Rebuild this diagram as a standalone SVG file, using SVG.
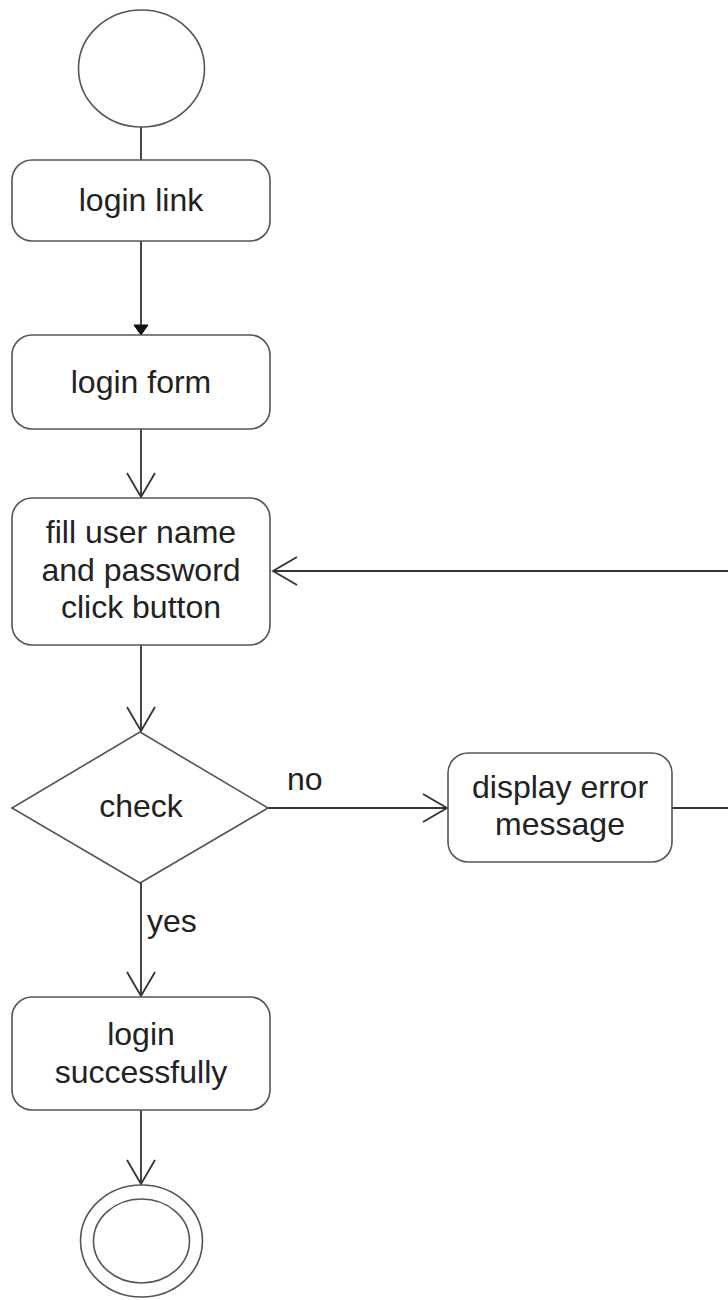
<svg xmlns="http://www.w3.org/2000/svg" width="728" height="1300" viewBox="0 0 728 1300">
<style>
.shape{fill:#fff;stroke:#555;stroke-width:1.6}
.conn{fill:none;stroke:#333;stroke-width:1.8}
.t{font-family:"Liberation Sans",Arial,sans-serif;font-size:32px;fill:#222;text-anchor:middle}
.lbl{font-family:"Liberation Sans",Arial,sans-serif;font-size:32px;fill:#222}
</style>
<defs>
<marker id="open" viewBox="-25 -16 27 32" refX="0" refY="0" markerWidth="27" markerHeight="32" markerUnits="userSpaceOnUse" orient="auto">
<path d="M-24,-14 L0,0 L-24,14" fill="none" stroke="#333" stroke-width="1.8"/>
</marker>
<marker id="filled" viewBox="-12 -8 13 16" refX="0" refY="0" markerWidth="13" markerHeight="16" markerUnits="userSpaceOnUse" orient="auto">
<path d="M-10,-7 L0,0 L-10,7 Z" fill="#111" stroke="#111" stroke-width="1"/>
</marker>
</defs>
<rect width="728" height="1300" fill="#fff"/>
<g id="connectors">
<line class="conn" x1="141" y1="127" x2="141" y2="160"/>
<line class="conn" x1="141" y1="241" x2="141" y2="335" marker-end="url(#filled)"/>
<line class="conn" x1="141" y1="429" x2="141" y2="497" marker-end="url(#open)"/>
<line class="conn" x1="141" y1="645" x2="141" y2="731" marker-end="url(#open)"/>
<line class="conn" x1="268" y1="808" x2="447" y2="808" marker-end="url(#open)"/>
<path class="conn" d="M672,808 H745 V571 H273" marker-end="url(#open)"/>
<line class="conn" x1="141" y1="883" x2="141" y2="996" marker-end="url(#open)"/>
<line class="conn" x1="141" y1="1110" x2="141" y2="1184" marker-end="url(#open)"/>
</g>
<g id="start">
<ellipse class="shape" cx="141.5" cy="68.5" rx="63" ry="58.5"/>
</g>
<g id="login-link">
<rect class="shape" x="12" y="160" width="258" height="81" rx="20" ry="20"/>
<text class="t" x="141" y="211">login link</text>
</g>
<g id="login-form">
<rect class="shape" x="12" y="335" width="258" height="94" rx="20" ry="20"/>
<text class="t" x="141" y="393">login form</text>
</g>
<g id="fill-form">
<rect class="shape" x="12" y="498" width="258" height="147" rx="20" ry="20"/>
<text class="t" x="141" y="543">fill user name</text>
<text class="t" x="141" y="581">and password</text>
<text class="t" x="141" y="618">click button</text>
</g>
<g id="check">
<polygon class="shape" points="140,732 268,808 140,883 12,808"/>
<text class="t" x="141" y="817">check</text>
</g>
<g id="display-error">
<rect class="shape" x="448" y="753" width="224" height="109" rx="20" ry="20"/>
<text class="t" x="560" y="798">display error</text>
<text class="t" x="560" y="835">message</text>
</g>
<g id="login-successfully">
<rect class="shape" x="12" y="997" width="258" height="113" rx="20" ry="20"/>
<text class="t" x="141" y="1045">login</text>
<text class="t" x="141" y="1083">successfully</text>
</g>
<g id="end">
<ellipse class="shape" cx="141.5" cy="1241" rx="61" ry="56"/>
<ellipse class="shape" cx="141.5" cy="1241" rx="48" ry="42"/>
</g>
<g id="labels">
<text class="lbl" x="287" y="790">no</text>
<text class="lbl" x="147" y="932">yes</text>
</g>
</svg>
